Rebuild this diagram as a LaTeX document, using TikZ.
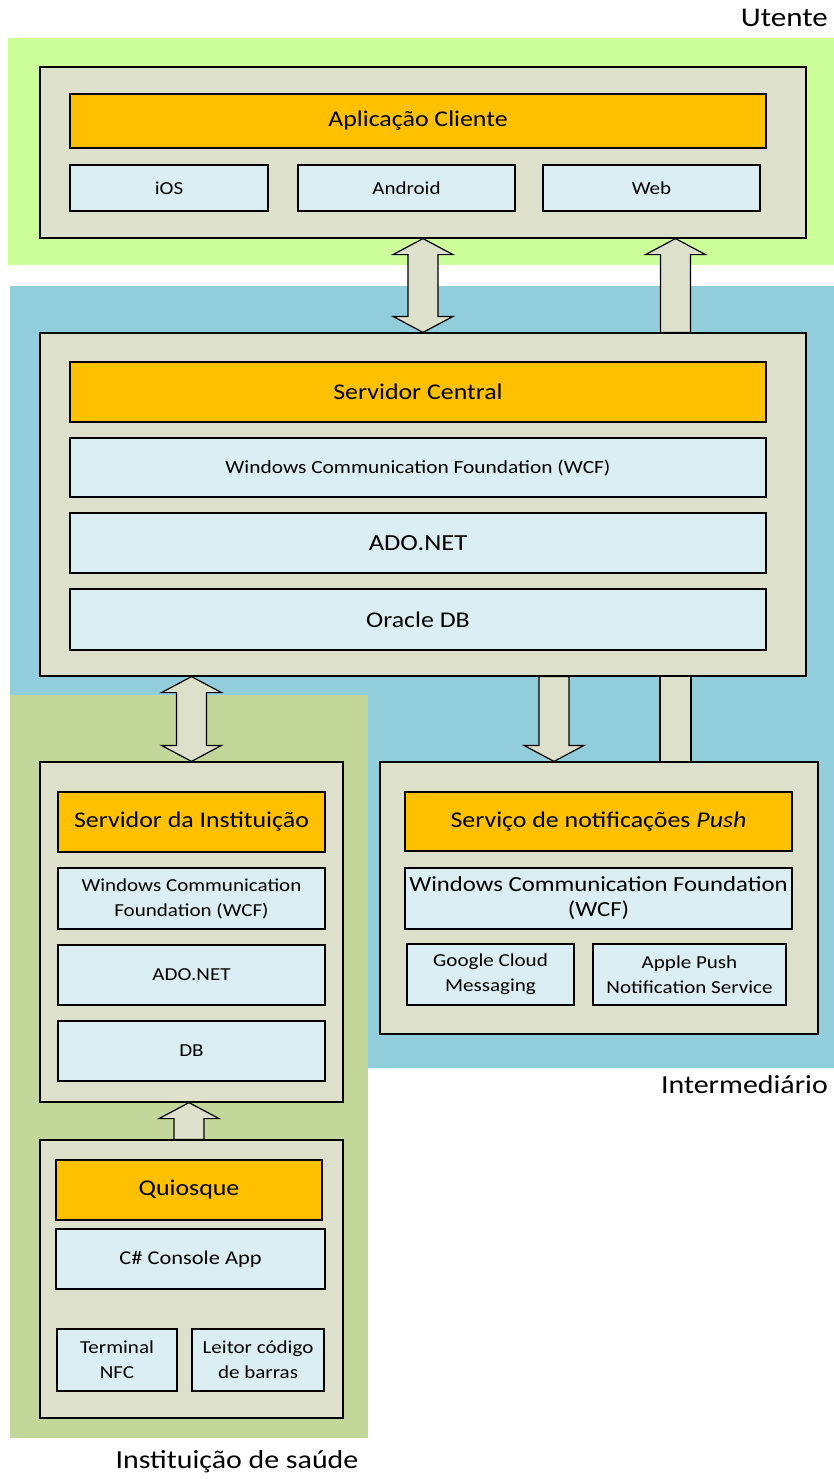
\documentclass[tikz,border=0pt]{standalone}
\usepackage{fontspec}
\setmainfont{Carlito}[FakeStretch=1.15]
\usetikzlibrary{calc}
\definecolor{zoneuser}{HTML}{CCFF99}
\definecolor{zonemid}{HTML}{92CDDC}
\definecolor{zoneinst}{HTML}{C4D79B}
\definecolor{layerfill}{HTML}{DDE0CB}
\definecolor{titlefill}{HTML}{FFC000}
\definecolor{partfill}{HTML}{DAEEF3}

% block arrow with a head at both ends (#1 top tip, #2 bottom tip)
\newcommand{\dblarrow}[2]{%
\draw[blockarrow] (#1) -- ($(#1)+(30,16)$) -- ($(#1)+(15,16)$) -- ($(#2)+(15,-16)$)
 -- ($(#2)+(30,-16)$) -- (#2) -- ($(#2)+(-30,-16)$) -- ($(#2)+(-15,-16)$)
 -- ($(#1)+(-15,16)$) -- ($(#1)+(-30,16)$) -- cycle;}
% block arrow with one head (#1 tip, #2 foot, #3 = 1 up, -1 down)
\newcommand{\onearrow}[3]{%
\draw[blockarrow] (#1) -- ($(#1)+(30,{16*(#3)})$) -- ($(#1)+(15,{16*(#3)})$) -- ($(#2)+(15,0)$)
 -- ($(#2)+(-15,0)$) -- ($(#1)+(-15,{16*(#3)})$) -- ($(#1)+(-30,{16*(#3)})$) -- cycle;}

\begin{document}
\begin{tikzpicture}[x=1pt,y=-1pt]
\tikzstyle{zone}=[inner sep=0pt,outer sep=0pt]
\tikzstyle{layer}=[draw,fill=layerfill,line width=1.2pt,inner sep=0pt]
\tikzstyle{title}=[draw,fill=titlefill,line width=1.2pt,font=\fontsize{22.5}{27}\selectfont]
\tikzstyle{part}=[draw,fill=partfill,line width=1.2pt,align=center,inner sep=0pt,font=\fontsize{18.3}{25}\selectfont]
\tikzstyle{blockarrow}=[draw,fill=layerfill,line width=1.2pt,line join=miter]
\tikzstyle{zonelabel}=[font=\fontsize{26}{30}\selectfont,inner sep=0pt]
\useasboundingbox (0,0) rectangle (834,1479);

% zones
\node[zone,fill=zoneuser,minimum width=826pt,minimum height=227pt] (userzone) at (421,151.5) {};
\node[zone,fill=zonemid,minimum width=824pt,minimum height=782pt] (midzone) at (422,677) {};
\node[zone,fill=zoneinst,minimum width=358pt,minimum height=743pt] (instzone) at (189,1066.5) {};
\node[zonelabel,anchor=east,font=\fontsize{27}{30}\selectfont] (userlbl) at (828,18) {Utente};
\node[zonelabel,anchor=east] (midlbl) at (828,1085) {Intermediário};
\node[zonelabel] (instlbl) at (237,1462) {Instituição de saúde};

% client application
\node[layer,minimum width=766pt,minimum height=171pt] (utente) at (423,152.5) {};
\node[title,minimum width=696pt,minimum height=54pt] (app) at (418,121) {Aplicação Cliente};
\node[part,minimum width=198pt,minimum height=46pt] (ios) at (169,188) {iOS};
\node[part,minimum width=217pt,minimum height=46pt] (android) at (406.5,188) {Android};
\node[part,minimum width=217pt,minimum height=46pt] (web) at (651.5,188) {Web};

% central server
\node[layer,minimum width=766pt,minimum height=343pt] (central) at (423,504.5) {};
\node[title,minimum width=696pt,minimum height=60pt] (srvcentral) at (418,392) {Servidor Central};
\node[part,minimum width=696pt,minimum height=59pt,font=\fontsize{18.6}{22}\selectfont] (wcfc) at (418,467.5) {Windows Communication Foundation (WCF)};
\node[part,minimum width=696pt,minimum height=60pt,font=\fontsize{23}{27}\selectfont] (adoc) at (418,543) {ADO.NET};
\node[part,minimum width=696pt,minimum height=61pt,font=\fontsize{22.5}{27}\selectfont] (oracle) at (418,619.5) {Oracle DB};

% institution server
\node[layer,minimum width=303pt,minimum height=340pt] (inst) at (191.5,932) {};
\node[title,minimum width=267pt,minimum height=60pt] (srvinst) at (191.5,822) {Servidor da Instituição};
\node[part,minimum width=267pt,minimum height=61pt] (wcfi) at (191.5,898.5) {Windows Communication\\Foundation (WCF)};
\node[part,minimum width=267pt,minimum height=60pt] (adoi) at (191.5,975) {ADO.NET};
\node[part,minimum width=267pt,minimum height=60pt] (dbi) at (191.5,1051) {DB};

% push notifications
\node[layer,minimum width=438pt,minimum height=272pt] (push) at (599,898) {};
\node[title,minimum width=387pt,minimum height=59pt] (srvpush) at (598.5,821.5) {Serviço de notificações \emph{Push}};
\node[part,minimum width=387pt,minimum height=61pt,font=\fontsize{21.5}{25}\selectfont] (wcfp) at (598.5,898.5) {Windows Communication Foundation\\(WCF)};
\node[part,minimum width=167pt,minimum height=61pt] (gcm) at (490.5,974.5) {Google Cloud\\Messaging};
\node[part,minimum width=193pt,minimum height=61pt] (apns) at (689.5,974.5) {Apple Push\\Notification Service};

% kiosk
\node[layer,minimum width=303pt,minimum height=278pt] (kiosk) at (191.5,1279) {};
\node[title,minimum width=266pt,minimum height=60pt] (quiosque) at (189,1190) {Quiosque};
\node[part,minimum width=269pt,minimum height=60pt,font=\fontsize{19.5}{24}\selectfont] (console) at (190.5,1259) {C\# Console App};
\node[part,minimum width=120pt,minimum height=62pt] (nfc) at (117,1360) {Terminal\\NFC};
\node[part,minimum width=132pt,minimum height=62pt] (barcode) at (258,1360) {Leitor código\\de barras};

% connectors
\coordinate (webtip) at (675.5,0 |- utente.south);
\coordinate (webfoot) at (675.5,0 |- central.north);
\coordinate (centralbot) at (inst.north |- central.south);
\coordinate (pushtip) at (554,0 |- push.north);
\coordinate (pushfoot) at (554,0 |- central.south);
\coordinate (bartop) at (675.5,0 |- central.south);
\coordinate (barbot) at (675.5,0 |- push.north);
\coordinate (kiosktip) at (189,0 |- inst.south);
\coordinate (kioskfoot) at (189,0 |- kiosk.north);
\dblarrow{utente.south}{central.north}
\onearrow{webtip}{webfoot}{1}
\dblarrow{centralbot}{inst.north}
\onearrow{pushtip}{pushfoot}{-1}
\draw[blockarrow] ($(bartop)+(-15.5,0)$) rectangle ($(barbot)+(15.5,0)$);
\onearrow{kiosktip}{kioskfoot}{1}
\end{tikzpicture}
\end{document}
